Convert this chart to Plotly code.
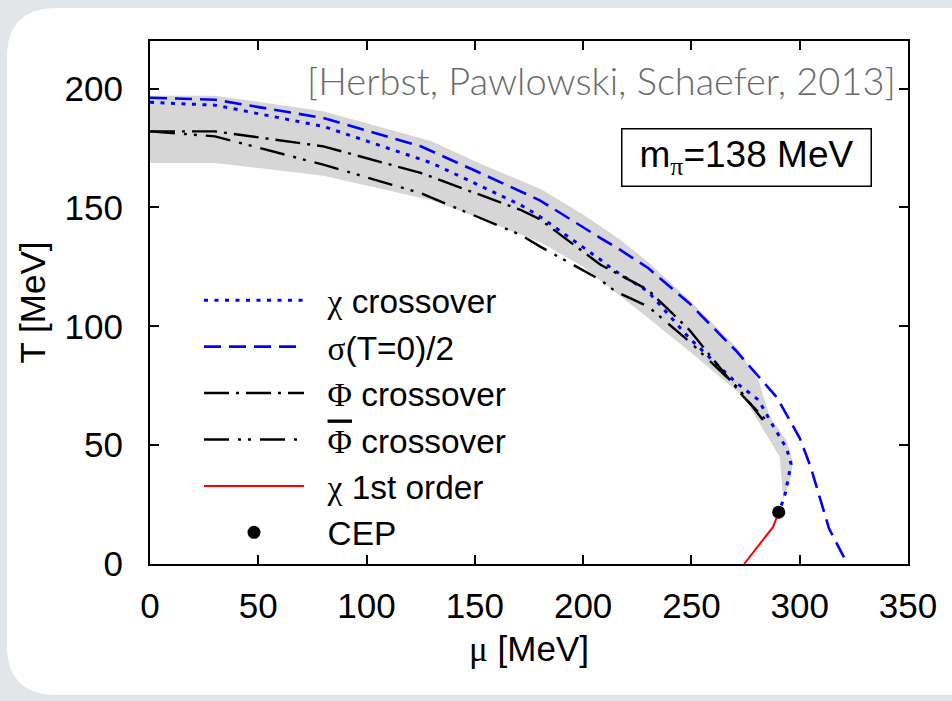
import plotly.graph_objects as go

# QCD phase diagram: chemical potential mu [MeV] vs temperature T [MeV]

# uncertainty band (upper edge down to the lower tip, then lower edge back)
band_mu_upper = [0, 30, 80, 130, 150, 181, 200, 217, 230, 249, 271, 280.8, 286.2, 293.9, 296.9, 295.4, 292.3]
band_T_upper = [197, 197, 190.4, 177.8, 169.4, 157.4, 147, 136.5, 127, 111, 91, 77.5, 62, 52, 43, 34, 27.6]
band_mu_lower = [290.8, 274, 250, 230, 208, 200, 181, 150, 130, 80, 30, 0]
band_T_lower = [45, 70.4, 88.8, 103.5, 119.5, 125, 135, 146.2, 153, 163.3, 168.7, 168.7]

# chiral crossover
chi_mu = [0, 30, 80, 125, 130, 171, 180, 208, 214, 230, 249, 271, 281, 287, 294, 296, 293, 290.3]
chi_T = [194.2, 193, 184.1, 170.1, 168.7, 151.1, 146.2, 128, 123.7, 114.6, 95, 76, 69, 59.2, 48.5, 42, 28.3, 21.8]

# sigma(T=0)/2
sig_mu = [0, 30, 80, 125, 150, 171, 180, 208, 217, 230, 249, 271, 289.5, 300, 305, 311, 313.5, 322]
sig_T = [196.1, 195.3, 187.6, 175.7, 165.5, 156.8, 153, 137.1, 132.2, 124.5, 109.7, 89.3, 70, 53, 41, 22.7, 15, 0]

# Polyakov loop crossover
phi_mu = [0, 30, 80, 125, 171, 180, 208, 230, 249, 274, 284]
phi_T = [182, 182, 175.7, 164.5, 149, 145, 125.9, 115.3, 98.5, 70.4, 61]

# conjugate Polyakov loop crossover
phib_mu = [0, 30, 80, 125, 171, 180, 208, 215, 230, 249, 271, 283]
phib_T = [182, 179.9, 168, 156, 138.5, 133.6, 119.5, 114.6, 108.3, 93.6, 74.6, 60.6]

# first-order line and critical end point
first_mu = [274.3, 287.7, 290.3]
first_T = [0, 15.6, 21.8]
cep_mu = [290.3]
cep_T = [21.8]

x_ticks = [0, 50, 100, 150, 200, 250, 300, 350]
y_ticks = [0, 50, 100, 150, 200]

SANS = "Liberation Sans, Arial, sans-serif"
SERIF = "Liberation Serif"


def greek(s, extra=""):
    return f"<span style='font-family:{SERIF};{extra}'>{s}</span>"


PAD = "\u00a0\u00a0"

fig = go.Figure()

fig.add_trace(go.Scatter(
    x=band_mu_upper + band_mu_lower, y=band_T_upper + band_T_lower,
    mode="lines", fill="toself", fillcolor="#d6d6d6",
    line=dict(width=0, color="#d6d6d6"), showlegend=False, hoverinfo="skip"))

fig.add_trace(go.Scatter(
    x=chi_mu, y=chi_T, mode="lines", name=PAD + greek("χ") + " crossover",
    line=dict(color="#0000ff", width=3, dash="4px,6.5px")))

fig.add_trace(go.Scatter(
    x=sig_mu, y=sig_T, mode="lines", name=PAD + greek("σ") + "(T=0)/2",
    line=dict(color="#0000ff", width=2.6, dash="17px,8px")))

fig.add_trace(go.Scatter(
    x=phi_mu, y=phi_T, mode="lines", name=PAD + greek("Φ") + " crossover",
    line=dict(color="black", width=2.4, dash="25px,7px,3px,7px")))

fig.add_trace(go.Scatter(
    x=phib_mu, y=phib_T, mode="lines",
    name=PAD + greek("Φ", "text-decoration:overline") + " crossover",
    line=dict(color="black", width=2.4, dash="25px,9px,3px,7px,3px,9px")))

fig.add_trace(go.Scatter(
    x=first_mu, y=first_T, mode="lines", name=PAD + greek("χ") + " 1st order",
    line=dict(color="#ff0000", width=2)))

fig.add_trace(go.Scatter(
    x=cep_mu, y=cep_T, mode="markers", name=PAD + "CEP",
    marker=dict(color="black", size=13)))

# rounded white panel on the grey page
L, R, T, B = 150, 908, 41, 564
W, H = R - L, B - T


def px(xp):
    return (xp - L) / W


def py(yp):
    return (B - yp) / H


x0, x1, y0, y1, r = 7, 970, 8, 695, 50
rx, ry = r / W, r / H
panel = (f"M {px(x0) + rx},{py(y0)} L {px(x1)},{py(y0)} L {px(x1)},{py(y1)} "
         f"L {px(x0) + rx},{py(y1)} Q {px(x0)},{py(y1)} {px(x0)},{py(y1) + ry} "
         f"L {px(x0)},{py(y0) - ry} Q {px(x0)},{py(y0)} {px(x0) + rx},{py(y0)} Z")

axis_common = dict(
    showline=True, linecolor="black", linewidth=2, mirror="ticks",
    ticks="inside", ticklen=9, tickwidth=1.5, tickcolor="black",
    showgrid=False, zeroline=False,
    tickfont=dict(family=SANS, size=35, color="black"),
)

fig.update_layout(
    width=952, height=701,
    margin=dict(l=L, r=952 - R, t=T, b=701 - B),
    paper_bgcolor="#e3e6e9", plot_bgcolor="white",
    shapes=[dict(type="path", path=panel, xref="paper", yref="paper",
                 fillcolor="white", line=dict(width=0), layer="below")],
    xaxis=dict(range=[0, 350], tickvals=x_ticks, ticklabelstandoff=10,
               title=dict(text=greek("μ") + " [MeV]", standoff=12,
                          font=dict(family=SANS, size=35, color="black")),
               **axis_common),
    yaxis=dict(range=[0, 220], tickvals=y_ticks, ticklabelstandoff=18,
               title=dict(text="T [MeV]", standoff=8,
                          font=dict(family=SANS, size=35, color="black")),
               **axis_common),
    legend=dict(x=px(199), y=py(272), xanchor="left", yanchor="top",
                bgcolor="rgba(0,0,0,0)", borderwidth=0, itemwidth=100,
                font=dict(family=SANS, size=33.4, color="black"),
                tracegroupgap=0),
    annotations=[
        dict(text="[Herbst, Pawlowski, Schaefer, 2013]", xref="paper", yref="paper",
             x=px(898), y=py(80), xanchor="right", yanchor="middle", showarrow=False,
             font=dict(family="Lato", size=38, color="#6b6b6b", weight=300)),
        dict(text="m<sub>" + greek("π") + "</sub>=138 MeV", xref="paper", yref="paper",
             x=px(746.5), y=py(157), xanchor="center", yanchor="middle", showarrow=False,
             width=244, height=52, borderpad=2, bordercolor="black", borderwidth=1.5,
             bgcolor="white", font=dict(family=SANS, size=37, color="black")),
    ],
)

fig.write_html("out.html")
